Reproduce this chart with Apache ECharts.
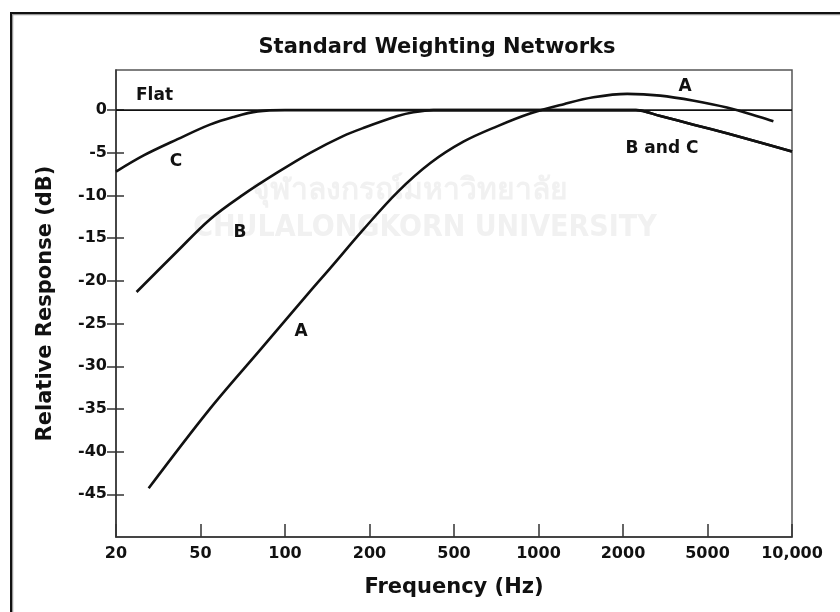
<!DOCTYPE html>
<html>
<head>
<meta charset="utf-8">
<script src="https://cdn.jsdelivr.net/npm/echarts@6/dist/echarts.min.js"></script>
<style>
html,body{margin:0;padding:0;background:#fff;}
#main{width:840px;height:612px;}
</style>
</head>
<body>
<div id="main"></div>
<script>
// ---- data ----
const tickFreqs = [20, 50, 100, 200, 500, 1000, 2000, 5000, 10000];
const tickLabels = ['20', '50', '100', '200', '500', '1000', '2000', '5000', '10,000'];
const yTicks = [-45, -40, -35, -30, -25, -20, -15, -10, -5, 0];

const flatFreq = [20, 10000];
const flatDb = [0, 0];

const aFreq = [28.5, 54, 82, 123, 145, 190, 271, 387, 540, 712, 933, 1231, 1569, 2093, 2994, 4318, 5864, 7684, 8585];
const aDb = [-44.3, -35.0, -28.0, -21.2, -18.5, -14.0, -9.6, -6.2, -3.7, -1.9, -0.4, 0.7, 1.5, 1.9, 1.7, 1.1, 0.3, -0.8, -1.3];

const bFreq = [25, 39, 54, 71, 94, 123, 161, 190, 271, 322, 400, 1000, 2300, 3000, 4300, 5900, 7700, 10000];
const bDb = [-21.3, -16.5, -12.8, -9.9, -7.3, -5.0, -3.05, -2.1, -0.7, -0.25, 0, 0, 0, -0.7, -1.7, -2.75, -3.8, -4.85];

const cFreq = [20, 27, 39, 54, 65.5, 80, 100, 1000, 2300, 3000, 4300, 5900, 7700, 10000];
const cDb = [-7.2, -5.3, -3.4, -1.7, -0.8, -0.15, 0, 0, 0, -0.7, -1.7, -2.75, -3.8, -4.85];

// frequency -> position on the evenly spaced tick axis
function freqToPos(f) {
  for (let i = 0; i < tickFreqs.length - 1; i++) {
    const f0 = tickFreqs[i], f1 = tickFreqs[i + 1];
    if (f <= f1 || i === tickFreqs.length - 2) {
      return i + Math.log(f / f0) / Math.log(f1 / f0);
    }
  }
}
function pts(fr, db) { return fr.map((f, i) => [freqToPos(f), db[i]]); }

const FONT = 'DejaVu Sans';
const chart = echarts.init(document.getElementById('main'), null, {renderer: 'canvas'});

const curveStyle = {color: '#111', width: 2.6};
function curve(name, fr, db) {
  return {
    name, type: 'line', data: pts(fr, db), showSymbol: false, symbol: 'none',
    smooth: 0.35, lineStyle: curveStyle, itemStyle: {color: '#111'}, silent: true, z: 3
  };
}

chart.setOption({
  backgroundColor: '#fff',
  animation: false,
  title: {
    text: 'Standard Weighting Networks',
    left: 432, top: 32, textAlign: 'center',
    textStyle: {fontFamily: FONT, fontWeight: 'bold', fontSize: 21, color: '#111'}
  },
  grid: {left: 116, right: 48, top: 70, bottom: 75, show: true, borderColor: '#555', borderWidth: 1.5, backgroundColor: 'transparent'},
  xAxis: {
    type: 'value', min: 0, max: 8, interval: 1,
    name: 'Frequency (Hz)', nameLocation: 'middle', nameGap: 40,
    nameTextStyle: {fontFamily: FONT, fontWeight: 'bold', fontSize: 21, color: '#111'},
    axisLine: {show: true, onZero: false, lineStyle: {color: '#333', width: 1.5}},
    axisTick: {show: true, inside: true, length: 13, lineStyle: {color: '#333', width: 1.5}},
    axisLabel: {
      margin: 9, fontFamily: FONT, fontWeight: 'bold', fontSize: 16, color: '#111',
      formatter: v => tickLabels[Math.round(v)]
    },
    splitLine: {show: false}
  },
  yAxis: [{
    type: 'value', min: -50, max: 4.7,
    name: 'Relative Response (dB)', nameLocation: 'middle', nameGap: 60, nameRotate: 90,
    nameTextStyle: {fontFamily: FONT, fontWeight: 'bold', fontSize: 21, color: '#111'},
    axisLine: {show: true, onZero: false, lineStyle: {color: '#333', width: 1.5}},
    axisTick: {show: true, inside: false, length: 9, customValues: yTicks, lineStyle: {color: '#333', width: 1.5}},
    axisLabel: {margin: 9, customValues: yTicks, fontFamily: FONT, fontWeight: 'bold', fontSize: 16, color: '#111'},
    splitLine: {show: false}
  }, {
    type: 'value', min: -50, max: 4.7, position: 'left',
    axisLine: {show: false, onZero: false},
    axisTick: {show: true, inside: true, length: 8, customValues: yTicks, lineStyle: {color: '#333', width: 1.5}},
    axisLabel: {show: false},
    splitLine: {show: false}
  }],
  series: [
    {name: 'Flat', type: 'line', data: pts(flatFreq, flatDb), showSymbol: false, symbol: 'none',
     lineStyle: {color: '#111', width: 1.6}, silent: true, z: 2},
    curve('A', aFreq, aDb),
    curve('B', bFreq, bDb),
    curve('C', cFreq, cDb)
  ],
  graphic: [
    {type: 'rect', shape: {x: 12.5, y: 14.5, width: 900, height: 700}, style: {fill: 'none', stroke: '#999', lineWidth: 1.5}, z: 0},
    {type: 'rect', shape: {x: 11, y: 13, width: 900, height: 700}, style: {fill: 'none', stroke: '#111', lineWidth: 2}, z: 1},
    {type: 'text', x: 410, y: 190, style: {text: 'จุฬาลงกรณ์มหาวิทยาลัย', fill: '#f1f1f1', font: 'bold 30px "Noto Sans", "DejaVu Sans"', align: 'center', verticalAlign: 'middle'}, z: -1},
    {type: 'text', x: 425, y: 228, style: {text: 'CHULALONGKORN UNIVERSITY', fill: '#f1f1f1', font: 'bold 30px "Liberation Sans Narrow", "DejaVu Sans Condensed", sans-serif', align: 'center', verticalAlign: 'middle'}, z: -1},
    {type: 'text', x: 136, y: 96, style: {text: 'Flat', fill: '#111', font: 'bold 17px "DejaVu Sans"', align: 'left', verticalAlign: 'middle'}, z: 10},
    {type: 'text', x: 176, y: 162, style: {text: 'C', fill: '#111', font: 'bold 17px "DejaVu Sans"', align: 'center', verticalAlign: 'middle'}, z: 10},
    {type: 'text', x: 240, y: 233, style: {text: 'B', fill: '#111', font: 'bold 17px "DejaVu Sans"', align: 'center', verticalAlign: 'middle'}, z: 10},
    {type: 'text', x: 301, y: 332, style: {text: 'A', fill: '#111', font: 'bold 17px "DejaVu Sans"', align: 'center', verticalAlign: 'middle'}, z: 10},
    {type: 'text', x: 685, y: 87, style: {text: 'A', fill: '#111', font: 'bold 17px "DejaVu Sans"', align: 'center', verticalAlign: 'middle'}, z: 10},
    {type: 'text', x: 662, y: 149, style: {text: 'B and C', fill: '#111', font: 'bold 17px "DejaVu Sans"', align: 'center', verticalAlign: 'middle'}, z: 10}
  ]
});
</script>
</body>
</html>
